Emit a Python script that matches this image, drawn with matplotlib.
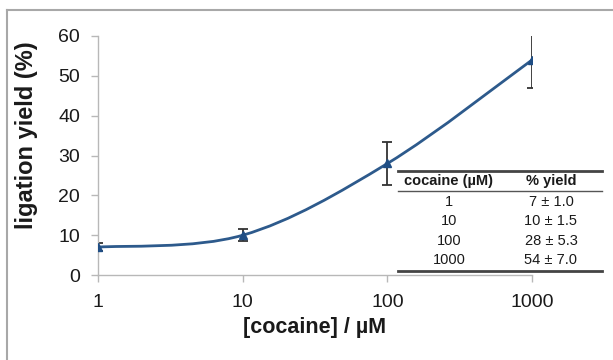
import numpy as np
import matplotlib.pyplot as plt
from matplotlib.path import Path
from matplotlib.patches import PathPatch
from matplotlib.lines import Line2D

plt.rcParams['font.family'] = ['Liberation Sans', 'DejaVu Sans']

# cocaine concentration (uM) vs ligation yield (%)
conc = [1, 10, 100, 1000]
yield_pct = [7, 10, 28, 54]
yield_err = [1.0, 1.5, 5.3, 7.0]

tbl_header = ['cocaine (\u00b5M)', '% yield']
tbl_conc = ['1', '10', '100', '1000']
tbl_yield = ['7 \u00b1 1.0', '10 \u00b1 1.5', '28 \u00b1 5.3', '54 \u00b1 7.0']

x_ticks = [1, 10, 100, 1000]
y_ticks = [0, 10, 20, 30, 40, 50, 60]

line_col = '#2d5a8c'
marker_col = '#1f4e85'
axis_col = '#b8b8b8'
text_col = '#1a1a1a'


def smooth_path(xs, ys):
    # bezier segments through the points (log x), like a spreadsheet "smoothed line"
    lx = np.log10(xs)
    pts = np.column_stack([lx, ys]).astype(float)
    n = len(pts)
    verts = [pts[0]]
    codes = [Path.MOVETO]
    for i in range(n - 1):
        p0 = pts[max(i - 1, 0)]
        p1 = pts[i]
        p2 = pts[i + 1]
        p3 = pts[min(i + 2, n - 1)]
        c1 = p1 + (p2 - p0) / 6
        c2 = p2 - (p3 - p1) / 6
        verts += [c1, c2, p2]
        codes += [Path.CURVE4] * 3
    verts = np.array(verts)
    verts[:, 0] = 10 ** verts[:, 0]
    return Path(verts, codes)


fig = plt.figure(figsize=(6.13, 3.6), dpi=100)
ax = fig.add_axes([0.160, 0.236, 0.708, 0.664])

ax.add_patch(PathPatch(smooth_path(conc, yield_pct), fill=False,
                       edgecolor=line_col, lw=2, zorder=3))
ax.errorbar(conc, yield_pct, yerr=yield_err, fmt='none', ecolor='#333333',
            elinewidth=1.3, capsize=3.5, capthick=1.3, zorder=2)
ax.plot(conc, yield_pct, linestyle='none', marker='^', ms=6,
        color=marker_col, zorder=4)

ax.set_xscale('log')
ax.set_xlim(1, 1000)
ax.set_ylim(0, 60)
ax.set_xticks(x_ticks)
ax.set_xticklabels([str(t) for t in x_ticks])
ax.set_yticks(y_ticks)
ax.minorticks_off()

for side in ['top', 'right']:
    ax.spines[side].set_visible(False)
for side in ['left', 'bottom']:
    ax.spines[side].set_color(axis_col)
    ax.spines[side].set_linewidth(1)
ax.tick_params(axis='both', colors=axis_col, labelcolor=text_col,
               labelsize=14, length=5, width=1)
ax.tick_params(axis='x', pad=9)
ax.tick_params(axis='y', pad=8)

fig.text(27 / 613, 1 - 135 / 360, 'ligation yield (%)', rotation=90,
         ha='center', va='center', fontsize=17, fontweight='bold', color=text_col)
fig.text(315 / 613, 1 - 327 / 360, '[cocaine] / \u00b5M', ha='center', va='center',
         fontsize=15.5, fontweight='bold', color=text_col)

# inset table with the numbers
W, H = 613, 360
tx0, tx1 = 398 / W, 602 / W
fig.add_artist(Line2D([tx0, tx1], [1 - 171 / H] * 2, color='#444444', lw=2))
fig.add_artist(Line2D([tx0, tx1], [1 - 191 / H] * 2, color='#555555', lw=1))
fig.add_artist(Line2D([tx0, tx1], [1 - 271 / H] * 2, color='#444444', lw=2))
c1, c2 = 449 / W, 551 / W
fig.text(c1, 1 - 181.5 / H, tbl_header[0], ha='center', va='center',
         fontsize=10.5, fontweight='bold', color=text_col)
fig.text(c2, 1 - 181.5 / H, tbl_header[1], ha='center', va='center',
         fontsize=10.5, fontweight='bold', color=text_col)
for i, (a, b) in enumerate(zip(tbl_conc, tbl_yield)):
    yy = 1 - (202 + i * 19.3) / H
    fig.text(c1, yy, a, ha='center', va='center', fontsize=10.5, color=text_col)
    fig.text(c2, yy, b, ha='center', va='center', fontsize=10.5, color=text_col)

# outer frame (top and left edges)
fig.add_artist(Line2D([7 / W, 1.0], [1 - 10 / H] * 2, color='#a8a8a8', lw=1.5))
fig.add_artist(Line2D([7 / W, 7 / W], [0, 1 - 10 / H], color='#a8a8a8', lw=1.5))

fig.savefig('out.png', dpi=100)
